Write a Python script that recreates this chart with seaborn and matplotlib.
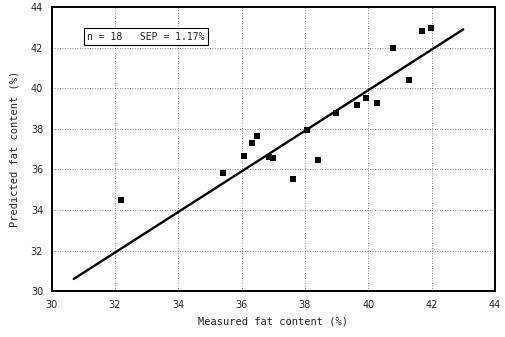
import matplotlib
matplotlib.use('Agg')
import matplotlib.pyplot as plt
import seaborn as sns
import pandas as pd

# Measured vs predicted fat content (%)
measured = [32.2, 35.4, 36.07, 36.33, 36.5, 36.87, 37.0, 37.63, 38.08,
            38.43, 38.97, 39.64, 39.92, 40.27, 40.77, 41.28, 41.69, 41.98]
predicted = [34.47, 35.8, 36.67, 37.3, 37.67, 36.59, 36.55, 35.53, 37.95,
             36.45, 38.8, 39.15, 39.52, 39.26, 42.0, 40.42, 42.8, 42.98]

# Fitted line end points
line_x = [30.7, 43.0]
line_y = [30.6, 42.9]

x_ticks = [30, 32, 34, 36, 38, 40, 42, 44]
y_ticks = [30, 32, 34, 36, 38, 40, 42, 44]
stats_label = "n = 18   SEP = 1.17%"

df = pd.DataFrame({'measured': measured, 'predicted': predicted})
df_line = pd.DataFrame({'x': line_x, 'y': line_y})

sns.set_style("white")
plt.rcParams['font.family'] = ['DejaVu Sans']

fig = plt.figure(figsize=(5.05, 3.37), dpi=100)
ax = fig.add_axes([0.102, 0.136, 0.878, 0.843])

sns.lineplot(data=df_line, x='x', y='y', color='black', linewidth=1.7, ax=ax)
sns.scatterplot(data=df, x='measured', y='predicted', marker='s', s=18,
                color='black', edgecolor='black', linewidth=0, ax=ax, zorder=3)

ax.set_xlim(30, 44)
ax.set_ylim(30, 44)
ax.set_xticks(x_ticks)
ax.set_yticks(y_ticks)
ax.grid(True, linestyle=(0, (1, 2)), color='black', linewidth=0.6, alpha=0.6)
ax.tick_params(length=0, labelsize=7, pad=6)
for spine in ax.spines.values():
    spine.set_visible(True)
    spine.set_color('black')
    spine.set_linewidth(1.4)

ax.set_xlabel("Measured fat content (%)", family='DejaVu Sans Mono', fontsize=7.5, labelpad=5)
ax.set_ylabel("Predicted fat content (%)", family='DejaVu Sans Mono', fontsize=7.5, labelpad=8)

ax.text(0.08, 0.896, stats_label, transform=ax.transAxes, fontsize=7,
        family='DejaVu Sans Mono', va='center', ha='left',
        bbox=dict(boxstyle='square,pad=0.35', facecolor='white', edgecolor='black', linewidth=0.8))

fig.savefig('out.png', dpi=100)
